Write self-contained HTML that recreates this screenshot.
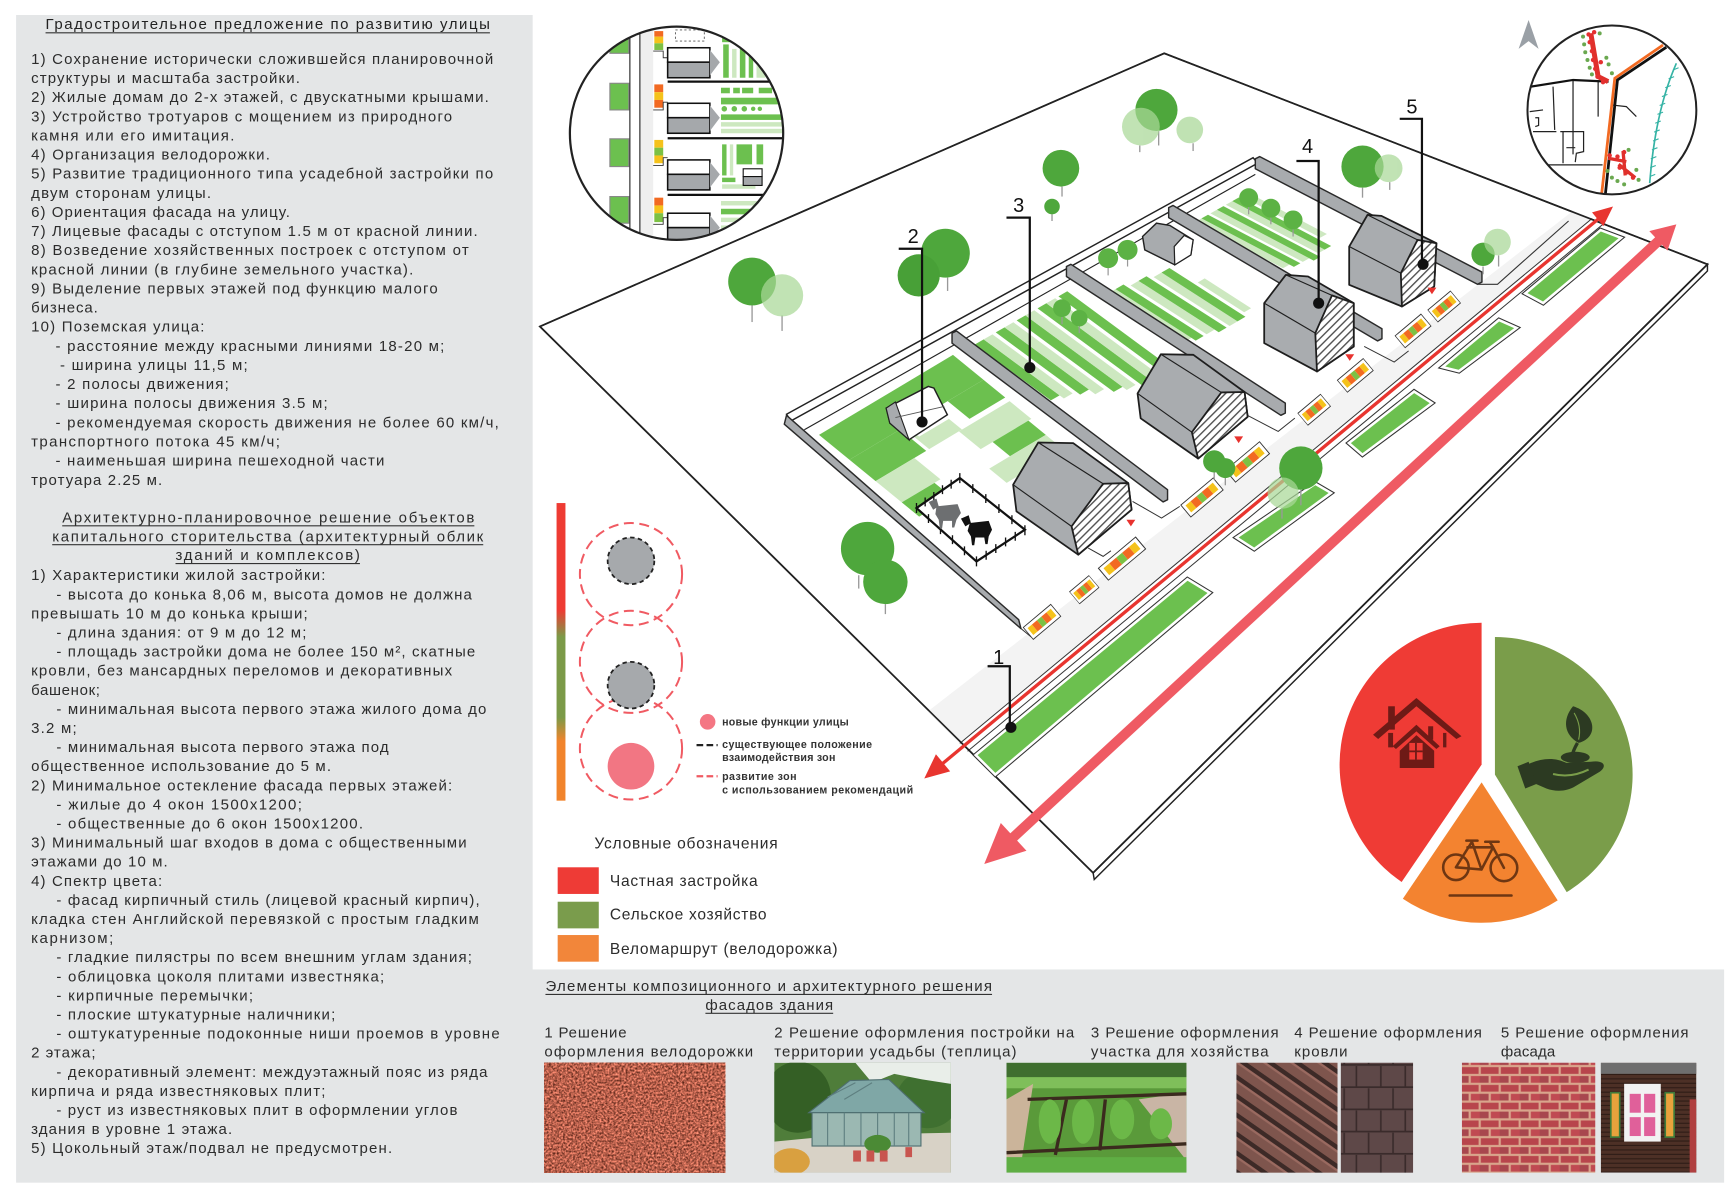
<!DOCTYPE html>
<html><head><meta charset="utf-8"><style>
html,body{margin:0;padding:0;background:#fff;overflow:hidden}
svg{display:block}
.lt{font-size:13.5px;fill:#2c2c2c}
.lg{font-size:9.6px;fill:#333;font-weight:bold}
.num{font-size:18px;fill:#111}
</style></head><body>
<svg xmlns="http://www.w3.org/2000/svg" width="1733" height="1196" viewBox="0 0 1560 1077" preserveAspectRatio="none" font-family="'Liberation Sans','Noto Sans CJK SC',sans-serif">
<defs>
<clipPath id="cl1"><circle cx="609" cy="120" r="96"/></clipPath>
<clipPath id="cl2"><circle cx="1451" cy="99" r="76"/></clipPath>
<clipPath id="cph2"><rect x="697" y="957" width="159" height="99"/></clipPath>
<clipPath id="cph3"><rect x="906" y="957" width="162" height="99"/></clipPath>
<clipPath id="cph5"><rect x="1441" y="957" width="86" height="99"/></clipPath>
<linearGradient id="gbar" x1="0" y1="0" x2="0" y2="1">
<stop offset="0" stop-color="#ee3b33"/><stop offset="0.36" stop-color="#ee3b33"/><stop offset="0.45" stop-color="#7b9a48"/><stop offset="0.72" stop-color="#7b9a48"/><stop offset="0.8" stop-color="#f1842c"/><stop offset="1" stop-color="#f1842c"/>
</linearGradient>
<pattern id="hatch" width="5" height="5" patternUnits="userSpaceOnUse" patternTransform="rotate(-45)"><rect width="5" height="5" fill="#fff"/><rect width="5" height="1.3" fill="#555"/></pattern>
<filter id="fGravel" x="0" y="0" width="1" height="1" color-interpolation-filters="sRGB">
<feTurbulence type="fractalNoise" baseFrequency="0.55" numOctaves="2" seed="5"/>
<feColorMatrix type="matrix" values="1.2 0 0 0 0.12  0.75 0 0 0 0.0  0.65 0 0 0 -0.03  0 0 0 0 1"/>
</filter>
<pattern id="pTile" width="14" height="14" patternUnits="userSpaceOnUse" patternTransform="rotate(35)"><rect width="14" height="14" fill="#7e554d"/><rect width="14" height="4" fill="#3d2a27"/><rect y="4" width="14" height="2" fill="#9a6a60"/></pattern>
<pattern id="pShingle" width="22" height="40" patternUnits="userSpaceOnUse"><rect width="22" height="40" fill="#5e4848"/><path d="M0 19 H22 M11 0 V19 M0 39 H22 M0 20 V39 M22 20 V39" stroke="#3a2b2b" stroke-width="1.5"/></pattern>
<pattern id="pBrick" width="18" height="16" patternUnits="userSpaceOnUse"><rect width="18" height="16" fill="#d9a58c"/><rect x="1" y="1" width="16" height="6" fill="#b8454c"/><rect x="-8" y="9" width="16" height="6" fill="#a8474e"/><rect x="10" y="9" width="16" height="6" fill="#c04a52"/></pattern>
<pattern id="pWood" width="10" height="4" patternUnits="userSpaceOnUse"><rect width="10" height="4" fill="#4d3026"/><rect y="3" width="10" height="1" fill="#2e1c16"/></pattern>
<g id="pv">
<rect x="-19" y="-7" width="38" height="14" fill="#fff" stroke="#333" stroke-width="0.8"/>
<rect x="-16" y="-4" width="6" height="8" fill="#f5c21b"/>
<rect x="-10" y="-4" width="7" height="8" fill="#f26a22"/>
<rect x="-3" y="-4" width="6" height="8" fill="#7cc144"/>
<rect x="3" y="-4" width="7" height="8" fill="#f26a22"/>
<rect x="10" y="-4" width="6" height="8" fill="#f5c21b"/>
</g>
</defs>

<rect width="1560" height="1077" fill="#fff"/>
<!-- left panel & bottom band -->
<rect x="14.5" y="13.5" width="465" height="1051.5" fill="#e4e6e7"/>
<rect x="479" y="873" width="1073" height="192" fill="#e4e6e7"/>

<!-- ground plane -->
<polygon points="1537,238 1537,244 985,792 984,786" fill="#fff" stroke="#222" stroke-width="1.3"/>
<polygon points="486,294 1048,48 1537,238 984,786" fill="#fff" stroke="#222" stroke-width="1.5"/>

<!-- sidewalk -->
<polygon points="835,640.8 1415.8,190 1433.1,196.8 864,669.4" fill="#f3f3f3"/>
<line x1="864" y1="669.4" x2="1433.1" y2="196.8" stroke="#333" stroke-width="0.9"/>
<line x1="871" y1="676.5" x2="1444" y2="201" stroke="#333" stroke-width="0.9"/>
<polygon points="486,294 1048,48 1537,238 984,786" fill="none" stroke="#222" stroke-width="1.5"/>

<!-- site rim -->
<polygon points="708,373 1128,142 1132,147 712,379" fill="#fff" stroke="#222" stroke-width="1.3"/>
<line x1="724" y1="387" x2="1130" y2="157" stroke="#222" stroke-width="1"/>

<!-- plot greens -->
<g transform="matrix(1.96,1.60,1.34,-0.80,726,390)">
<rect x="3" y="4" width="14" height="90" fill="#6cc04f"/>
<rect x="17" y="4" width="12" height="34" fill="#6cc04f"/>
<rect x="17" y="40" width="12" height="22" fill="#cde8c0"/>
<rect x="17" y="70" width="10" height="24" fill="#6cc04f"/>
<rect x="29" y="4" width="12" height="26" fill="#cde8c0"/>
<rect x="41" y="4" width="8" height="22" fill="#6cc04f"/>
<rect x="29" y="60" width="10" height="34" fill="#cde8c0"/>
<rect x="39" y="68" width="8" height="24" fill="#6cc04f"/>
<rect x="47" y="54" width="8" height="38" fill="#cde8c0"/>
<rect x="9" y="42" width="14" height="20" fill="#fff"/>
</g>
<g transform="matrix(1.90,1.40,0.99,-0.57,864,308)">
<rect x="4" y="6" width="36" height="8" fill="#6cc04f"/>
<rect x="4" y="14" width="38" height="8" fill="#cde8c0"/>
<rect x="4" y="25" width="40" height="8" fill="#6cc04f"/>
<rect x="4" y="33" width="43" height="8" fill="#cde8c0"/>
<rect x="4" y="44" width="46" height="8" fill="#6cc04f"/>
<rect x="4" y="52" width="48" height="8" fill="#cde8c0"/>
<rect x="4" y="63" width="50" height="8" fill="#6cc04f"/>
<rect x="4" y="71" width="50" height="8" fill="#cde8c0"/>
<rect x="4" y="82" width="46" height="8" fill="#6cc04f"/>
</g>
<g transform="matrix(1.90,1.22,0.89,-0.52,966,250)">
<rect x="14" y="5" width="36" height="8" fill="#cde8c0"/>
<rect x="14" y="13" width="38" height="8" fill="#6cc04f"/>
<rect x="16" y="24" width="36" height="8" fill="#cde8c0"/>
<rect x="16" y="32" width="38" height="8" fill="#6cc04f"/>
<rect x="18" y="43" width="36" height="8" fill="#cde8c0"/>
<rect x="18" y="51" width="36" height="8" fill="#6cc04f"/>
<rect x="30" y="62" width="22" height="7" fill="#cde8c0"/>
</g>
<g transform="matrix(1.98,1.04,0.73,-0.41,1058,197)">
<rect x="6" y="8" width="40" height="8" fill="#cde8c0"/>
<rect x="6" y="16" width="42" height="8" fill="#6cc04f"/>
<rect x="6" y="27" width="42" height="8" fill="#cde8c0"/>
<rect x="6" y="35" width="44" height="8" fill="#6cc04f"/>
<rect x="6" y="46" width="42" height="8" fill="#cde8c0"/>
<rect x="6" y="54" width="42" height="8" fill="#6cc04f"/>
<rect x="6" y="65" width="36" height="8" fill="#cde8c0"/>
</g>

<!-- front yard step lines -->
<g fill="none" stroke="#333" stroke-width="0.9">
<polyline points="979.6,493.5 993,501 1000,496"/>
<polyline points="1019.5,451.5 1045.6,466.5 1062,456"/>
<polyline points="1119,372 1150.6,388.5 1165.6,376.5"/>
<polyline points="1228,312 1255,326 1268,316"/>
<polyline points="919,566 930,575"/>
</g>

<!-- walls -->
<g fill="#a8abae" stroke="#2a2a2a" stroke-width="1.3" stroke-linejoin="round">
<polygon points="708,374 917,558 919,566 706,382"/>
<polygon points="857,300 861,298 1051,441 1051,450 1047,452 857,309"/>
<polygon points="960,240 964,238 1157,363 1157,372 1153,374 960,249"/>
<polygon points="1052,187 1056,185 1244,296 1244,305 1240,307 1052,196"/>
<polygon points="1130,143 1134,141 1334,245 1334,254 1330,256 1130,152"/>
</g>
<polyline points="1330,256 1348,256 1412,199" fill="none" stroke="#333" stroke-width="1"/>

<!-- small plot trees -->
<g stroke="#999" stroke-width="1.1">
<line x1="956" y1="284" x2="956" y2="292"/><line x1="971.5" y1="292" x2="971.5" y2="300"/>
<line x1="997.5" y1="240" x2="997.5" y2="248"/><line x1="1015" y1="232" x2="1015" y2="240"/>
<line x1="1124" y1="185" x2="1124" y2="193"/><line x1="1144" y1="194" x2="1144" y2="202"/><line x1="1164" y1="205" x2="1164" y2="213"/>
</g>
<g fill="#5cb244">
<circle cx="956" cy="277.5" r="8"/><circle cx="971.5" cy="286.5" r="7.5"/>
<circle cx="997.5" cy="232.5" r="9"/><circle cx="1015" cy="225" r="9"/>
<circle cx="1124" cy="178" r="8.5"/><circle cx="1144" cy="187.5" r="8.5"/><circle cx="1164" cy="198" r="8.5"/>
</g>

<!-- sheds -->
<polygon points="1028.5,213 1041,201 1053,203 1074,216 1072,229.5 1057.5,238.5 1030.5,225" fill="#a8abae" stroke="#222" stroke-width="1.3"/>
<polygon points="1057.5,238.5 1057,222 1066,212 1074,216 1072,229.5" fill="#fff" stroke="#222" stroke-width="1.1"/>
<polygon points="797.7,367.5 835.6,348 840.7,349.5 852.8,373.5 818.3,396 801,381" fill="#fff" stroke="#222" stroke-width="1.3"/>
<polygon points="797.7,367.5 806,362 818.3,396 801,381" fill="#a8abae" stroke="#222" stroke-width="1"/>
<line x1="806" y1="376" x2="850" y2="366" stroke="#555" stroke-width="0.8"/>

<!-- pen -->
<polygon points="825,457.5 864,430.5 922.6,477 879,505.6" fill="#fff" stroke="#111" stroke-width="2"/>
<g stroke="#111" stroke-width="1.2">
<path d="M832.8,448v8M840.6,443v8M848.4,437v8M856.2,432v8M875.7,436v8M887.4,445v8M899.2,454v8M910.9,464v8M913.9,479v8M905.2,484v8M896.4,490v8M887.7,496v8M868.2,492v8M857.4,482v8M846.6,473v8M835.8,463v8M825,453v9M864,426v9M922.6,473v9M879,501v9"/>
</g>
<g fill="#6d6f71"><path d="M843,456 L862,454 L865,462 L861,468 L859,475 L857,475 L857,469 L849,469 L848,476 L846,476 L845,468 L842,463 Z"/><path d="M836,452 L843,449 L845,456 L840,459 Z"/></g>
<g fill="#111"><path d="M873,471 L890,469 L893,477 L890,483 L889,490 L887,490 L886,484 L878,484 L877,491 L875,491 L874,483 L871,478 Z"/><path d="M865,467 L872,464 L874,471 L869,474 Z"/></g>

<!-- houses -->
<g stroke="#1e1e1e" stroke-width="1.6" stroke-linejoin="round">
<polygon points="934.6,398.5 966,399 1015.6,435 1018.6,459 970.6,499.5 915,460.5 912,436.5" fill="#a9acaf"/>
<polygon points="964.6,474 993,435.6 1015.6,435 1018.6,459 970.6,499.5" fill="url(#hatch)"/>
<polyline points="912,436.5 964.6,474" fill="none" stroke-width="1"/>
<polyline points="934.6,398.5 993,435.6" fill="none" stroke-width="1"/>

<polygon points="1045,319 1074.2,319.5 1120.3,353 1123.1,375.3 1078.5,412.9 1026.8,376.7 1024,354.3" fill="#a9acaf"/>
<polygon points="1072.9,389.2 1099.4,353.4 1120.3,353 1123.1,375.3 1078.5,412.9" fill="url(#hatch)"/>
<polyline points="1024,354.3 1072.9,389.2" fill="none" stroke-width="1"/>
<polyline points="1045,319 1099.4,353.4" fill="none" stroke-width="1"/>

<polygon points="1157.5,247.5 1177.5,249 1218.6,273 1218.6,312 1185.5,334.5 1138,309 1138,273" fill="#a9acaf"/>
<polygon points="1184,300 1199,266 1218.6,273 1218.6,312 1185.5,334.5" fill="url(#hatch)"/>
<polyline points="1138,273 1184,300" fill="none" stroke-width="1"/>
<polyline points="1157.5,247.5 1199,266" fill="none" stroke-width="1"/>

<polygon points="1231,193.5 1243.5,194.4 1293,219 1291,258 1262,276 1214.5,256.5 1214.5,222" fill="#a9acaf"/>
<polygon points="1261,246 1276,216 1293,219 1291,258 1262,276" fill="url(#hatch)"/>
<polyline points="1214.5,222 1261,246" fill="none" stroke-width="1"/>
<polyline points="1231,193.5 1276,216" fill="none" stroke-width="1"/>
</g>

<!-- pavers -->
<g transform="translate(938,560) rotate(-40) scale(0.85,1)"><use href="#pv"/></g>
<g transform="translate(976,531) rotate(-40) scale(0.6,1)"><use href="#pv"/></g>
<g transform="translate(1010,503) rotate(-40) scale(1.15,1)"><use href="#pv"/></g>
<g transform="translate(1082,448) rotate(-40) scale(1.0,1)"><use href="#pv"/></g>
<g transform="translate(1123,416) rotate(-40) scale(1.05,1)"><use href="#pv"/></g>
<g transform="translate(1183,369) rotate(-40) scale(0.7,1)"><use href="#pv"/></g>
<g transform="translate(1220,338) rotate(-40) scale(0.8,1)"><use href="#pv"/></g>
<g transform="translate(1272,298) rotate(-40) scale(0.8,1)"><use href="#pv"/></g>
<g transform="translate(1300,276) rotate(-40) scale(0.7,1)"><use href="#pv"/></g>
<g fill="#e8322e">
<polygon points="1014,468 1022,468 1018,474"/><polygon points="1111,393 1119,393 1115,399"/>
<polygon points="1211,319 1219,319 1215,325"/><polygon points="1285,259 1293,259 1289,265"/>
</g>

<!-- lawns -->
<g stroke-linejoin="miter">
<g fill="none" stroke="#333" stroke-width="6.5">
<polygon points="880,680 1069,523 1087,534 896,696"/><polygon points="1115,484 1184,437 1196,444 1129,493"/><polygon points="1216,399 1273,354 1287,363 1226.5,408"/><polygon points="1301,330 1349.5,289.5 1363,295.5 1313,333"/><polygon points="1375,264 1441,208.5 1457,214.5 1389,271.5"/>
</g>
<g fill="none" stroke="#fff" stroke-width="4.6">
<polygon points="880,680 1069,523 1087,534 896,696"/><polygon points="1115,484 1184,437 1196,444 1129,493"/><polygon points="1216,399 1273,354 1287,363 1226.5,408"/><polygon points="1301,330 1349.5,289.5 1363,295.5 1313,333"/><polygon points="1375,264 1441,208.5 1457,214.5 1389,271.5"/>
</g>
<g fill="#6cc04f">
<polygon points="880,680 1069,523 1087,534 896,696"/><polygon points="1115,484 1184,437 1196,444 1129,493"/><polygon points="1216,399 1273,354 1287,363 1226.5,408"/><polygon points="1301,330 1349.5,289.5 1363,295.5 1313,333"/><polygon points="1375,264 1441,208.5 1457,214.5 1389,271.5"/>
</g>
</g>

<!-- thin red arrow -->
<line x1="848" y1="688" x2="1439" y2="197" stroke="#e8352f" stroke-width="3"/>
<polygon points="1452,186 1443.3,203.7 1433.1,191.3" fill="#e8352f"/>
<polygon points="832,701 855.3,694.6 842.5,679.2" fill="#e8352f"/>
<!-- thick pink arrow -->
<line x1="910" y1="756" x2="1494" y2="216" stroke="#ef5a63" stroke-width="9"/>
<polygon points="1509,202 1501,225.7 1484.7,208.1" fill="#ef5a63"/>
<polygon points="886,778 924,766.1 900.9,741.1" fill="#ef5a63"/>

<!-- big trees -->
<g stroke="#999" stroke-width="1.2">
<line x1="677" y1="272" x2="677" y2="290"/><line x1="704" y1="284" x2="704" y2="298"/>
<line x1="853" y1="250" x2="853" y2="262"/>
<line x1="956" y1="168" x2="956" y2="177"/><line x1="947" y1="193" x2="947" y2="199"/>
<line x1="1043" y1="118" x2="1043" y2="131"/><line x1="1026" y1="131" x2="1026" y2="137"/><line x1="1074" y1="129" x2="1074" y2="136"/>
<line x1="1226.5" y1="169" x2="1226.5" y2="178"/><line x1="1251" y1="164" x2="1251" y2="171"/>
<line x1="1335" y1="240" x2="1335" y2="247"/><line x1="1349" y1="230" x2="1349" y2="240"/>
<line x1="773" y1="518" x2="773" y2="530"/><line x1="797" y1="544" x2="797" y2="553"/>
<line x1="1171" y1="441" x2="1171" y2="455"/><line x1="1154" y1="458" x2="1154" y2="467"/>
<line x1="1093" y1="425" x2="1093" y2="432"/><line x1="1103" y1="430" x2="1103" y2="437"/>
</g>
<g fill="#4ea73c">
<circle cx="677" cy="253.5" r="21.5"/>
<circle cx="851" cy="228" r="22"/><circle cx="827" cy="248" r="19" fill="#48a037"/>
<circle cx="955" cy="151.5" r="16.5"/><circle cx="947" cy="186" r="7"/>
<circle cx="1041" cy="99" r="19"/>
<circle cx="1226.5" cy="150" r="19"/>
<circle cx="1335" cy="229" r="10.5"/>
<circle cx="781" cy="494" r="24"/><circle cx="797" cy="524" r="20"/>
<circle cx="1171" cy="421.5" r="19.5"/>
<circle cx="1093" cy="415.5" r="10"/><circle cx="1103" cy="421.5" r="9"/>
</g>
<g fill="#a9d897" opacity="0.72">
<circle cx="704" cy="266" r="19"/>
<circle cx="1027" cy="114" r="17"/><circle cx="1071" cy="117" r="12"/>
<circle cx="1250" cy="151.5" r="12.5"/>
<circle cx="1348" cy="218" r="12"/>
<circle cx="1155" cy="444" r="14"/>
</g>

<!-- leaders and numbers -->
<g fill="none" stroke="#111" stroke-width="2">
<path d="M889,600 H909 V654"/><path d="M809,224 H830 V380"/><path d="M906,196 H927 V331"/><path d="M1167,145 H1187 V273"/><path d="M1260,107 H1280 V238"/>
</g>
<g fill="#111">
<circle cx="910" cy="655" r="5"/><circle cx="830" cy="380" r="5"/><circle cx="927" cy="331" r="5"/><circle cx="1187" cy="273" r="5"/><circle cx="1281" cy="238" r="5"/>
</g>
<text class="num" x="894" y="598">1</text>
<text class="num" x="817" y="219">2</text>
<text class="num" x="912" y="191">3</text>
<text class="num" x="1172" y="138">4</text>
<text class="num" x="1266" y="102">5</text>

<!-- inset circle 1 -->
<g clip-path="url(#cl1)">
<circle cx="609" cy="120" r="96" fill="#fff"/>
<g fill="#6cc04f" stroke="#888" stroke-width="1">
<rect x="549" y="33" width="17" height="15"/><rect x="549" y="75" width="17" height="24"/><rect x="549" y="125" width="17" height="25"/><rect x="549" y="177" width="17" height="24"/>
</g>
<rect x="576" y="20" width="12" height="200" fill="#efefef"/>
<line x1="567" y1="20" x2="567" y2="220" stroke="#222" stroke-width="1"/>
<line x1="576" y1="20" x2="576" y2="220" stroke="#222" stroke-width="1"/>
<g>
<rect x="589" y="28" width="8" height="5" fill="#f26a22"/><rect x="589" y="33" width="8" height="6" fill="#f5c21b"/><rect x="589" y="39" width="8" height="6" fill="#7cc144"/>
<rect x="589" y="76" width="8" height="7" fill="#f26a22"/><rect x="589" y="83" width="8" height="7" fill="#f5c21b"/><rect x="589" y="90" width="8" height="7" fill="#f26a22"/>
<rect x="589" y="126" width="8" height="7" fill="#f5c21b"/><rect x="589" y="133" width="8" height="7" fill="#7cc144"/><rect x="589" y="140" width="8" height="7" fill="#f5c21b"/>
<rect x="589" y="178" width="8" height="7" fill="#f26a22"/><rect x="589" y="185" width="8" height="7" fill="#f5c21b"/><rect x="589" y="192" width="8" height="8" fill="#7cc144"/>
</g>
<g fill="none" stroke="#333" stroke-width="0.8">
<path d="M588,46 H597 V52 H601 M588,99 H597 V92 H601 M588,149 H597 V142 H601 M588,202 H597 V196 H601"/>
</g>
<g stroke="#111" stroke-width="1.4">
<rect x="601" y="43" width="38" height="13" fill="#fff"/><rect x="601" y="56" width="38" height="14" fill="#a5a8ab"/>
<rect x="601" y="93" width="38" height="13" fill="#fff"/><rect x="601" y="106" width="38" height="14" fill="#a5a8ab"/>
<rect x="601" y="144" width="38" height="13" fill="#fff"/><rect x="601" y="157" width="38" height="14" fill="#a5a8ab"/>
<rect x="601" y="192" width="38" height="13" fill="#fff"/><rect x="601" y="205" width="38" height="14" fill="#a5a8ab"/>
</g>
<g fill="#a5a8ab">
<polygon points="639,45 648,56 639,68"/><polygon points="639,95 648,106 639,118"/><polygon points="639,146 648,157 639,169"/><polygon points="639,194 648,205 639,217"/>
</g>
<g stroke="#111" stroke-width="2"><line x1="601" y1="73.5" x2="710" y2="73.5"/><line x1="601" y1="124.5" x2="710" y2="124.5"/><line x1="601" y1="175.5" x2="710" y2="175.5"/></g>
<g fill="#6cc04f">
<rect x="651" y="40" width="5" height="30"/><rect x="666" y="42" width="5" height="28"/><rect x="674" y="48" width="4" height="22"/><rect x="650" y="33" width="8" height="5"/>
<rect x="649" y="79" width="8" height="5"/><rect x="660" y="79" width="6" height="5"/><rect x="668" y="79" width="10" height="5"/><rect x="683" y="79" width="12" height="5"/>
<rect x="649" y="88" width="58" height="6"/><rect x="649" y="103" width="58" height="5"/>
<circle cx="652" cy="98" r="2.5"/><circle cx="661" cy="98" r="2.5"/><circle cx="670" cy="98" r="2.5"/><circle cx="678" cy="98" r="2"/><circle cx="684" cy="98" r="2"/>
<rect x="650" y="130" width="4" height="28"/><rect x="663" y="130" width="14" height="18"/><rect x="681" y="130" width="6" height="18"/><rect x="650" y="160" width="12" height="4"/>
<rect x="649" y="188" width="58" height="5"/>
</g>
<g fill="#cde8c0">
<rect x="659" y="44" width="4" height="26"/><rect x="681" y="45" width="8" height="25"/>
<rect x="649" y="110" width="58" height="4"/><rect x="649" y="116" width="58" height="4"/>
<rect x="657" y="130" width="3" height="28"/><rect x="650" y="166" width="30" height="4"/>
<rect x="649" y="181" width="58" height="4"/><rect x="649" y="196" width="58" height="4"/><rect x="649" y="203" width="58" height="4"/>
</g>
<rect x="669" y="152" width="17" height="7" fill="#fff" stroke="#111" stroke-width="1"/><rect x="669" y="159" width="17" height="8" fill="#a5a8ab" stroke="#111" stroke-width="1"/>
<rect x="608" y="27" width="26" height="10" fill="none" stroke="#555" stroke-width="0.8" stroke-dasharray="2 2"/>
</g>
<circle cx="609" cy="120" r="96" fill="none" stroke="#222" stroke-width="2"/>

<!-- inset circle 2 -->
<g clip-path="url(#cl2)">
<circle cx="1451" cy="99" r="76" fill="#fff"/>
<g fill="none" stroke="#222" stroke-width="1.1">
<path d="M1398,78 L1399.5,117"/><path d="M1416,72 L1416,139"/><path d="M1438.6,73.5 L1438.6,105"/>
<path d="M1377,100.5 L1389,99"/><path d="M1380,118.5 L1401,118.5"/><path d="M1391.5,148.5 L1442.6,148.5"/>
<path d="M1404.5,118.5 L1425.5,118.5 L1425.5,136.5 L1419,138 L1418,146"/><path d="M1407,118.5 L1407,147"/><path d="M1410,133 L1418,133"/>
<path d="M1382,106 L1385,106 L1385,113 L1382,114"/>
<path d="M1450.5,94.5 L1464,96 L1473,105"/>
</g>
<path d="M1372,79 L1416,72 L1448,73.5" fill="none" stroke="#111" stroke-width="2"/>
<path d="M1497,40.5 L1453.6,70.5 L1441.6,176" fill="none" stroke="#f26a22" stroke-width="2.5"/>
<path d="M1500,42.5 L1456,72 L1445,176" fill="none" stroke="#111" stroke-width="2.5"/>
<path d="M1432,30 L1438.6,69 L1447.6,73.5" fill="none" stroke="#e0302b" stroke-width="4.5"/>
<g fill="#e53030">
<circle cx="1430" cy="31" r="2"/><circle cx="1435" cy="29" r="2"/><circle cx="1431" cy="38" r="2"/><circle cx="1433" cy="46" r="2"/><circle cx="1434" cy="54" r="2"/><circle cx="1436" cy="62" r="2"/><circle cx="1438" cy="69" r="2"/><circle cx="1441" cy="56" r="2"/><circle cx="1443" cy="74" r="2"/>
<circle cx="1449" cy="140" r="2"/><circle cx="1456" cy="141" r="2"/><circle cx="1462" cy="137" r="2"/><circle cx="1458" cy="151" r="2"/><circle cx="1465" cy="155" r="2"/><circle cx="1470" cy="160" r="2"/>
</g>
<g fill="#6aa84f"><circle cx="1425" cy="33" r="1.8"/><circle cx="1426" cy="40" r="1.8"/><circle cx="1427" cy="47" r="1.8"/><circle cx="1429" cy="54" r="1.8"/><circle cx="1431" cy="61" r="1.8"/><circle cx="1433" cy="67" r="1.8"/><circle cx="1440" cy="30" r="1.8"/><circle cx="1446" cy="52" r="1.8"/><circle cx="1448" cy="58" r="1.8"/><circle cx="1451" cy="66" r="1.8"/>
<circle cx="1447" cy="154" r="1.8"/><circle cx="1451" cy="160" r="1.8"/><circle cx="1456" cy="163" r="1.8"/><circle cx="1466" cy="135" r="1.8"/><circle cx="1473" cy="153" r="1.8"/><circle cx="1475" cy="162" r="1.8"/><circle cx="1462" cy="166" r="1.8"/></g>
<path d="M1447.6,142.5 L1464,145.5 M1461,136 L1463,158 M1457,148 L1472,160" fill="none" stroke="#e0302b" stroke-width="3"/>
<path d="M1509,57 Q1490,100 1485,165" fill="none" stroke="#35b3a5" stroke-width="1.5"/>
<path d="M1506,63 l5,-2 M1502,71 l5,-2 M1499,79 l5,-2 M1496,87 l5,-2 M1494,95 l5,-2 M1492,103 l5,-2 M1490,111 l5,-2 M1489,119 l5,-2 M1488,127 l5,-2 M1487,135 l5,-2 M1486,143 l5,-2 M1485.5,151 l5,-2 M1485,159 l5,-2" stroke="#35b3a5" stroke-width="1"/>
</g>
<circle cx="1451" cy="99" r="76" fill="none" stroke="#222" stroke-width="1.8"/>
<polygon points="1376,18 1385,44 1376,37 1367,44" fill="#9aa0a6"/>

<!-- legend -->
<rect x="501" y="453" width="8" height="268" fill="url(#gbar)"/>
<g fill="none" stroke="#f05a62" stroke-width="1.8" stroke-dasharray="9 5">
<circle cx="568" cy="517" r="46"/><circle cx="568" cy="596" r="46"/><circle cx="568" cy="674" r="46"/>
</g>
<circle cx="568" cy="505" r="21" fill="#a6a9ac" stroke="#222" stroke-width="1.6" stroke-dasharray="4 3"/>
<circle cx="568" cy="617" r="21" fill="#a6a9ac" stroke="#222" stroke-width="1.6" stroke-dasharray="4 3"/>
<circle cx="568" cy="690" r="21" fill="#f27683"/>
<circle cx="637" cy="650" r="7" fill="#f47683"/>
<line x1="627" y1="671" x2="646" y2="671" stroke="#222" stroke-width="2" stroke-dasharray="6 3"/>
<line x1="627" y1="699" x2="646" y2="699" stroke="#f05a62" stroke-width="2" stroke-dasharray="6 3"/>
<text class="lg" x="650" y="653.5" textLength="114" lengthAdjust="spacing">новые функции улицы</text>
<text class="lg" x="650" y="673.5" textLength="135" lengthAdjust="spacing">существующее положение</text>
<text class="lg" x="650" y="685.5" textLength="102" lengthAdjust="spacing">взаимодействия зон</text>
<text class="lg" x="650" y="702.5" textLength="67" lengthAdjust="spacing">развитие зон</text>
<text class="lg" x="650" y="714.5" textLength="172" lengthAdjust="spacing">с использованием рекомендаций</text>

<text class="lt" x="535" y="764" textLength="165" lengthAdjust="spacing" style="font-size:14px">Условные обозначения</text>
<rect x="502" y="781" width="37" height="24" fill="#ee3b36"/>
<rect x="502" y="812" width="37" height="24" fill="#7a9c4c"/>
<rect x="502" y="842" width="37" height="24" fill="#f2863a"/>
<text class="lt" x="549" y="798" textLength="133" lengthAdjust="spacing" style="font-size:14px">Частная застройка</text>
<text class="lt" x="549" y="828" textLength="141" lengthAdjust="spacing" style="font-size:14px">Сельское хозяйство</text>
<text class="lt" x="549" y="859" textLength="205" lengthAdjust="spacing" style="font-size:14px">Веломаршрут (велодорожка)</text>

<!-- pie -->
<path d="M1333.7,688.6 L1333.7,560.8 A127.8,127.8 0 0 0 1261.7,794.2 Z" fill="#ef3b35"/>
<path d="M1345.7,697.6 L1345.7,573.6 A124,124 0 0 1 1410.3,803.4 Z" fill="#7a9d4a"/>
<path d="M1333.7,704.5 L1402.2,810.8 A126.5,126.5 0 0 1 1262.8,809.3 Z" fill="#f38330"/>
<g fill="#6e1a16">
<polygon points="1236,661.6 1275,628.6 1315.6,663 1311,665.5 1275,636 1240.6,665.5"/>
<rect x="1249.6" y="636" width="6" height="21"/>
<rect x="1249.6" y="660" width="4.4" height="13"/>
<rect x="1299" y="660" width="3" height="13"/>
<polygon points="1253.6,672 1275,652.6 1296,672 1293,674.5 1275,658.6 1256.6,674.5"/>
<rect x="1285.6" y="654" width="4.5" height="12"/>
<polygon points="1260,676 1275,662 1291,676 1291,691.6 1260,691.6"/>
</g>
<rect x="1268.6" y="669" width="12" height="15" fill="#ef3b35"/>
<rect x="1273.8" y="669" width="1.6" height="15" fill="#6e1a16"/><rect x="1268.6" y="675.8" width="12" height="1.6" fill="#6e1a16"/>
<g fill="#2c3a22">
<path d="M1416,636 C1436,642 1440,664 1421,669 C1408,662 1406,648 1416,636 Z"/>
<ellipse cx="1418" cy="682" rx="13" ry="5"/>
<path d="M1372,690 C1385,683 1398,681 1410,687 L1432,686 C1444,684 1447,690 1440,695 L1418,708 C1410,713 1400,713 1392,710 L1378,704 Z"/>
<polygon points="1366,690 1376,686 1383,706 1373,710"/>
</g>
<path d="M1420,669 Q1416,676 1415,681" fill="none" stroke="#2c3a22" stroke-width="3"/>
<path d="M1417,642 Q1424,654 1421,666" fill="none" stroke="#7a9d4a" stroke-width="1"/>
<path d="M1398,697 Q1414,701 1430,693" fill="none" stroke="#7a9d4a" stroke-width="1.8"/>
<g fill="none" stroke="#6e3612" stroke-width="2.3" stroke-linecap="round" stroke-linejoin="round">
<circle cx="1310.6" cy="781" r="11.5"/><circle cx="1353.8" cy="781.5" r="12"/>
<path d="M1310.6,781 L1325,758 M1321,763 L1344,763 L1333.6,783 L1310.6,781 M1325,758 L1333.6,783 M1344,763 L1353.8,781.5 M1344,763 L1341,758"/>
<path d="M1320,757 H1330 M1337,758 H1349"/>
<path d="M1305,806.4 H1360.6"/>
</g>

<!-- left column text -->
<g class="lt">
<text x="41" y="26" textLength="400" lengthAdjust="spacing" style="fill:#222">Градостроительное предложение по развитию улицы</text>
<text x="28" y="57.5" textLength="416" lengthAdjust="spacing">1) Сохранение исторически сложившейся планировочной</text>
<text x="28" y="74.7" textLength="242" lengthAdjust="spacing">структуры и масштаба застройки.</text>
<text x="28" y="92" textLength="412" lengthAdjust="spacing">2) Жилые домам до 2-х этажей, с двускатными крышами.</text>
<text x="28" y="109.2" textLength="379" lengthAdjust="spacing">3) Устройство тротуаров с мощением из природного</text>
<text x="28" y="126.4" textLength="183" lengthAdjust="spacing">камня или его имитация.</text>
<text x="28" y="143.7" textLength="215" lengthAdjust="spacing">4) Организация велодорожки.</text>
<text x="28" y="160.9" textLength="416" lengthAdjust="spacing">5) Развитие традиционного типа усадебной застройки по</text>
<text x="28" y="178.1" textLength="162" lengthAdjust="spacing">двум сторонам улицы.</text>
<text x="28" y="195.3" textLength="233" lengthAdjust="spacing">6) Ориентация фасада на улицу.</text>
<text x="28" y="212.6" textLength="402" lengthAdjust="spacing">7) Лицевые фасады с отступом 1.5 м от красной линии.</text>
<text x="28" y="229.8" textLength="394" lengthAdjust="spacing">8) Возведение  хозяйственных построек с отступом от</text>
<text x="28" y="247" textLength="344" lengthAdjust="spacing">красной линии (в глубине земельного участка).</text>
<text x="28" y="264.3" textLength="366" lengthAdjust="spacing">9) Выделение первых этажей под функцию малого</text>
<text x="28" y="281.5" textLength="60" lengthAdjust="spacing">бизнеса.</text>
<text x="28" y="298.7" textLength="156" lengthAdjust="spacing">10) Поземская улица:</text>
<text x="50" y="316" textLength="350" lengthAdjust="spacing">- расстояние между красными линиями 18-20 м;</text>
<text x="54" y="333.2" textLength="169" lengthAdjust="spacing">- ширина улицы 11,5 м;</text>
<text x="50" y="350.4" textLength="156" lengthAdjust="spacing">- 2 полосы движения;</text>
<text x="50" y="367.6" textLength="245" lengthAdjust="spacing">- ширина полосы движения 3.5 м;</text>
<text x="50" y="384.9" textLength="399" lengthAdjust="spacing">- рекомендуемая скорость движения не более 60 км/ч,</text>
<text x="28" y="402.1" textLength="224" lengthAdjust="spacing">транспортного потока 45 км/ч;</text>
<text x="50" y="419.3" textLength="296" lengthAdjust="spacing">- наименьшая ширина пешеходной части</text>
<text x="28" y="436.6" textLength="118" lengthAdjust="spacing">тротуара 2.25 м.</text>

<text x="56" y="470.5" textLength="371" lengthAdjust="spacing">Архитектурно-планировочное решение объектов</text>
<text x="47" y="487.5" textLength="388" lengthAdjust="spacing">капитального сторительства (архитектурный облик</text>
<text x="158" y="504.5" textLength="166" lengthAdjust="spacing">зданий и комплексов)</text>

<text x="28" y="522.5" textLength="265" lengthAdjust="spacing">1) Характеристики жилой застройки:</text>
<text x="50.8" y="539.7" textLength="374" lengthAdjust="spacing">- высота до конька 8,06 м, высота домов не должна</text>
<text x="28" y="556.9" textLength="249" lengthAdjust="spacing">превышать 10 м до конька крыши;</text>
<text x="50.8" y="574.1" textLength="225" lengthAdjust="spacing">- длина здания: от 9 м до 12 м;</text>
<text x="50.8" y="591.3" textLength="377" lengthAdjust="spacing">- площадь застройки дома не более 150 м², скатные</text>
<text x="28" y="608.5" textLength="379" lengthAdjust="spacing">кровли, без мансардных переломов и декоративных</text>
<text x="28" y="625.7" textLength="62" lengthAdjust="spacing">башенок;</text>
<text x="50.8" y="642.9" textLength="387" lengthAdjust="spacing">- минимальная высота первого этажа жилого дома до</text>
<text x="28" y="660.1" textLength="41" lengthAdjust="spacing">3.2 м;</text>
<text x="50.8" y="677.3" textLength="299" lengthAdjust="spacing">- минимальная высота первого этажа под</text>
<text x="28" y="694.5" textLength="270" lengthAdjust="spacing">общественное использование до 5 м.</text>
<text x="28" y="711.7" textLength="379" lengthAdjust="spacing">2) Минимальное остекление фасада первых этажей:</text>
<text x="50.8" y="728.9" textLength="221" lengthAdjust="spacing">- жилые до 4 окон 1500х1200;</text>
<text x="50.8" y="746.1" textLength="276" lengthAdjust="spacing">- общественные до 6 окон 1500х1200.</text>
<text x="28" y="763.3" textLength="392" lengthAdjust="spacing">3) Минимальный шаг входов в дома с общественными</text>
<text x="28" y="780.5" textLength="123" lengthAdjust="spacing">этажами до 10 м.</text>
<text x="28" y="797.7" textLength="118" lengthAdjust="spacing">4) Спектр цвета:</text>
<text x="50.8" y="814.9" textLength="381" lengthAdjust="spacing">- фасад кирпичный стиль (лицевой красный кирпич),</text>
<text x="28" y="832.1" textLength="403" lengthAdjust="spacing">кладка стен Английской перевязкой с простым гладким</text>
<text x="28" y="849.3" textLength="74" lengthAdjust="spacing">карнизом;</text>
<text x="50.8" y="866.5" textLength="374" lengthAdjust="spacing">- гладкие пилястры по всем внешним углам здания;</text>
<text x="50.8" y="883.7" textLength="295" lengthAdjust="spacing">- облицовка цоколя плитами известняка;</text>
<text x="50.8" y="900.9" textLength="177" lengthAdjust="spacing">- кирпичные перемычки;</text>
<text x="50.8" y="918.1" textLength="251" lengthAdjust="spacing">- плоские штукатурные наличники;</text>
<text x="50.8" y="935.3" textLength="399" lengthAdjust="spacing">- оштукатуренные подоконные ниши проемов в уровне</text>
<text x="28" y="952.5" textLength="58" lengthAdjust="spacing">2 этажа;</text>
<text x="50.8" y="969.7" textLength="388" lengthAdjust="spacing">- декоративный элемент: междуэтажный пояс из ряда</text>
<text x="28" y="986.9" textLength="265" lengthAdjust="spacing">кирпича и ряда известняковых плит;</text>
<text x="50.8" y="1004.1" textLength="361" lengthAdjust="spacing">- руст из известняковых плит в оформлении углов</text>
<text x="28" y="1021.3" textLength="181" lengthAdjust="spacing">здания в уровне 1 этажа.</text>
<text x="28" y="1038.5" textLength="325" lengthAdjust="spacing">5) Цокольный этаж/подвал не предусмотрен.</text>
</g>
<g stroke="#333" stroke-width="1">
<line x1="41" y1="29.5" x2="441" y2="29.5"/>
<line x1="56" y1="473.5" x2="427" y2="473.5"/>
<line x1="47" y1="490.5" x2="435" y2="490.5"/>
<line x1="158" y1="507.5" x2="324" y2="507.5"/>
<line x1="491" y1="895.5" x2="893" y2="895.5"/>
<line x1="635" y1="912.5" x2="750" y2="912.5"/>
</g>

<!-- bottom band text -->
<g class="lt">
<text x="491" y="892.5" textLength="402" lengthAdjust="spacing">Элементы композиционного и архитектурного решения</text>
<text x="635" y="909.5" textLength="115" lengthAdjust="spacing">фасадов здания</text>
<text x="490" y="934.5" textLength="74" lengthAdjust="spacing">1 Решение</text>
<text x="490" y="951.5" textLength="188" lengthAdjust="spacing">оформления велодорожки</text>
<text x="697" y="934.5" textLength="270" lengthAdjust="spacing">2 Решение оформления постройки на</text>
<text x="697" y="951.5" textLength="218" lengthAdjust="spacing">территории усадьбы (теплица)</text>
<text x="982" y="934.5" textLength="169" lengthAdjust="spacing">3 Решение оформления</text>
<text x="982" y="951.5" textLength="160" lengthAdjust="spacing">участка для хозяйства</text>
<text x="1165" y="934.5" textLength="169" lengthAdjust="spacing">4 Решение оформления</text>
<text x="1165" y="951.5" textLength="48" lengthAdjust="spacing">кровли</text>
<text x="1351" y="934.5" textLength="169" lengthAdjust="spacing">5 Решение оформления</text>
<text x="1351" y="951.5" textLength="49" lengthAdjust="spacing">фасада</text>
</g>

<!-- photos -->
<rect x="490" y="957" width="163" height="99" fill="#b5604f"/>
<rect x="490" y="957" width="163" height="99" filter="url(#fGravel)"/>

<g clip-path="url(#cph2)">
<rect x="697" y="957" width="159" height="99" fill="#4f7d3a"/>
<ellipse cx="718" cy="988" rx="30" ry="32" fill="#345f25"/>
<ellipse cx="835" cy="990" rx="28" ry="26" fill="#3f7030"/>
<polygon points="770,957 856,957 856,976 830,972 805,967 785,975" fill="#e9eee9"/>
<polygon points="697,1028 760,1022 856,1020 856,1056 697,1056" fill="#d8d2c6"/>
<ellipse cx="712" cy="1046" rx="17" ry="12" fill="#d9a040"/>
<polygon points="728,1002 765,973 800,972 832,1002" fill="#7fa7a6" stroke="#4e6e70" stroke-width="1"/>
<rect x="731" y="1002" width="98" height="30" fill="#9bb8b2" stroke="#4e6e70" stroke-width="1"/>
<path d="M745,1002V1032M760,1002V1032M775,1002V1032M790,1002V1032M805,1002V1032M818,1002V1032M745,988L770,975M760,990L785,975" stroke="#5e7f80" stroke-width="1"/>
<ellipse cx="790" cy="1030" rx="12" ry="8" fill="#4b8a35"/>
<rect x="768" y="1036" width="7" height="10" fill="#c8554f"/><rect x="780" y="1036" width="7" height="10" fill="#c8554f"/><rect x="792" y="1036" width="7" height="10" fill="#c8554f"/><rect x="815" y="1033" width="6" height="9" fill="#c8554f"/>
</g>

<g clip-path="url(#cph3)">
<rect x="906" y="957" width="162" height="99" fill="#5a9a3a"/>
<rect x="906" y="957" width="162" height="13" fill="#3f6f2f"/>
<rect x="906" y="970" width="162" height="10" fill="#7fbf5a"/>
<polygon points="906,990 930,976 918,1056 906,1056" fill="#cbb49a"/>
<polygon points="1025,990 1068,984 1068,1045" fill="#c9b5a5"/>
<path d="M925,990 L1068,985 M906,1038 L1068,1030 M960,990 L950,1040 M995,990 L990,1036" stroke="#3b2a1e" stroke-width="3" fill="none"/>
<g fill="#6cb848"><ellipse cx="945" cy="1010" rx="10" ry="20"/><ellipse cx="975" cy="1010" rx="10" ry="20"/><ellipse cx="1010" cy="1008" rx="11" ry="18"/><ellipse cx="1045" cy="1012" rx="10" ry="14"/></g>
<rect x="906" y="1042" width="162" height="14" fill="#5fae44"/>
</g>

<rect x="1113" y="957" width="91" height="99" fill="url(#pTile)"/>
<rect x="1207" y="957" width="65" height="99" fill="url(#pShingle)"/>
<rect x="1316" y="957" width="120" height="99" fill="url(#pBrick)"/>

<g clip-path="url(#cph5)">
<rect x="1441" y="957" width="86" height="99" fill="url(#pWood)"/>
<rect x="1441" y="957" width="86" height="10" fill="#6e6e6e"/>
<rect x="1450" y="984" width="8" height="40" fill="#e8a23c" stroke="#3d7a3a" stroke-width="1.5"/>
<rect x="1499" y="984" width="8" height="40" fill="#e8a23c" stroke="#3d7a3a" stroke-width="1.5"/>
<rect x="1462" y="976" width="33" height="52" fill="#f2f2f2"/>
<rect x="1467" y="985" width="10" height="17" fill="#e0609a"/><rect x="1480" y="985" width="10" height="17" fill="#e0609a"/>
<rect x="1467" y="1006" width="10" height="17" fill="#e0609a"/><rect x="1480" y="1006" width="10" height="17" fill="#e0609a"/>
<rect x="1521" y="990" width="6" height="66" fill="#b04040"/>
</g>
</svg>
</body></html>
